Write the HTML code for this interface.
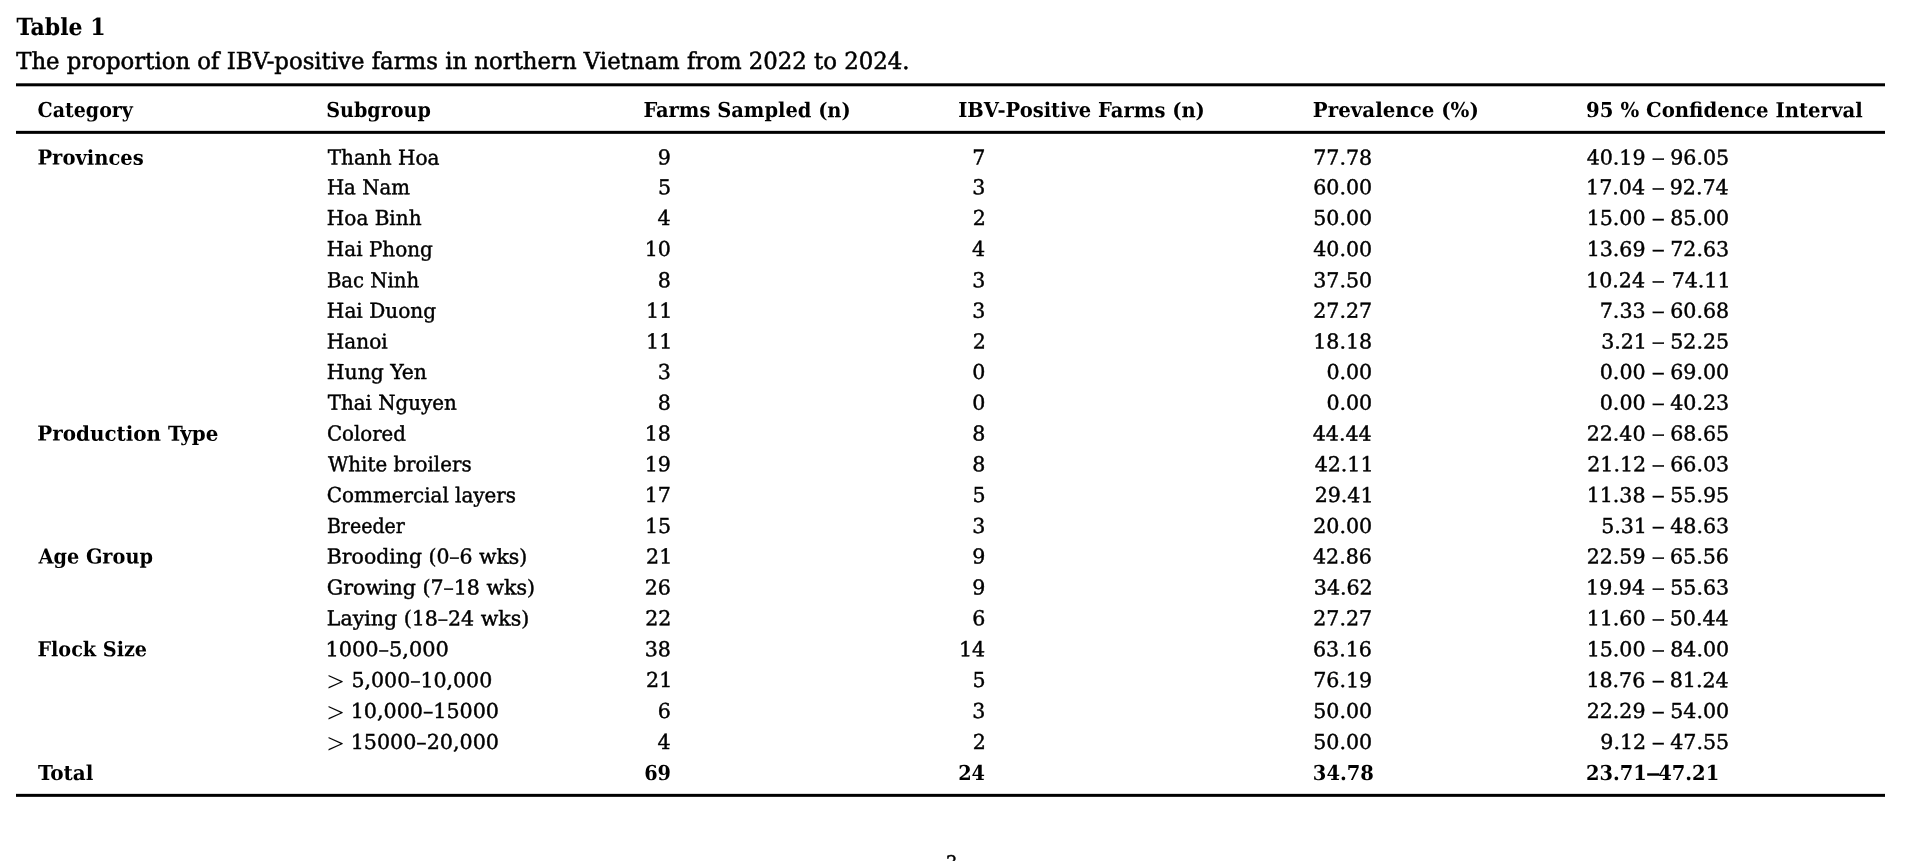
<!DOCTYPE html>
<html lang="en">
<head>
<meta charset="utf-8">
<title>Table 1 – The proportion of IBV-positive farms in northern Vietnam from 2022 to 2024</title>
<style>
html,body{margin:0;padding:0;background:#fff;}
body{width:1920px;height:861px;position:relative;overflow:hidden;color:#000;font-family:"DejaVu Serif Condensed", "DejaVu Serif", "Liberation Serif", serif;}
#page{position:absolute;left:0;top:0;width:1920px;height:861px;overflow:hidden;will-change:transform;}
svg.rules{position:absolute;left:0;top:0;}
.t{position:absolute;left:0;top:0;white-space:pre;line-height:1;font-size:20.5px;transform-origin:0 0;text-rendering:geometricPrecision;-webkit-text-stroke:0.4px #000;}
.b{font-weight:bold;-webkit-text-stroke:0px #000;}
.c{font-size:23.5px;-webkit-text-stroke:0.5px #000;}
.b.c{-webkit-text-stroke:0.1px #000;}
.g{font-family:"Liberation Serif", "DejaVu Serif", serif;font-size:27px;-webkit-text-stroke:0;}
</style>
</head>
<body>
<div id="page">
<svg class="rules" width="1920" height="861" aria-hidden="true"><rect x="16" y="83.3" width="1869" height="3" fill="#000"/><rect x="16" y="130.85" width="1869" height="3" fill="#000"/><rect x="16" y="793.85" width="1869" height="3" fill="#000"/></svg>
<div class="t b c" style="transform:translate(16.50px,15.90px) scaleX(1.0419)">Table 1</div>
<div class="t c" style="transform:translate(16.20px,50.30px) scaleX(1.0783)">The proportion of IBV-positive farms in northern Vietnam from 2022 to 2024.</div>
<div class="t b" style="transform:translate(37.53px,100.00px) scaleX(1.0309) rotate(0.05deg)">Category</div>
<div class="t b" style="transform:translate(326.20px,100.00px) scaleX(1.0374) rotate(0.05deg)">Subgroup</div>
<div class="t b" style="transform:translate(643.41px,100.00px) scaleX(1.0546) rotate(0.05deg)">Farms Sampled (n)</div>
<div class="t b" style="transform:translate(958.21px,100.00px) scaleX(1.0590) rotate(0.05deg)">IBV-Positive Farms (n)</div>
<div class="t b" style="transform:translate(1312.89px,100.00px) scaleX(1.0737) rotate(0.05deg)">Prevalence (%)</div>
<div class="t b" style="transform:translate(1586.13px,100.00px) scaleX(1.0680) rotate(0.05deg)">95 % Confidence Interval</div>
<div class="t b" style="transform:translate(37.41px,147.60px) scaleX(1.0596) rotate(0.05deg)">Provinces</div>
<div class="t" style="transform:translate(327.70px,147.60px) scaleX(1.0852) rotate(0.05deg)">Thanh Hoa</div>
<div class="t" style="transform:translate(657.81px,147.60px) scaleX(1.1150) rotate(0.05deg)">9</div>
<div class="t" style="transform:translate(972.31px,147.60px) scaleX(1.1150) rotate(0.05deg)">7</div>
<div class="t" style="transform:translate(1313.30px,147.60px) scaleX(1.1150) rotate(0.05deg)">77.78</div>
<div class="t" style="transform:translate(1586.70px,147.60px) scaleX(1.1150) rotate(0.05deg)">40.19</div>
<div class="t" style="transform:translate(1651.79px,147.60px) scaleX(1.4182) rotate(0.05deg)">–</div>
<div class="t" style="transform:translate(1670.30px,147.60px) scaleX(1.1150) rotate(0.05deg)">96.05</div>
<div class="t" style="transform:translate(326.90px,177.30px) scaleX(1.0706) rotate(0.05deg)">Ha Nam</div>
<div class="t" style="transform:translate(658.09px,177.30px) scaleX(1.1150) rotate(0.05deg)">5</div>
<div class="t" style="transform:translate(972.31px,177.30px) scaleX(1.1150) rotate(0.05deg)">3</div>
<div class="t" style="transform:translate(1313.30px,177.30px) scaleX(1.1150) rotate(0.05deg)">60.00</div>
<div class="t" style="transform:translate(1586.14px,177.30px) scaleX(1.1150) rotate(0.05deg)">17.04</div>
<div class="t" style="transform:translate(1651.79px,177.30px) scaleX(1.4182) rotate(0.05deg)">–</div>
<div class="t" style="transform:translate(1669.74px,177.30px) scaleX(1.1150) rotate(0.05deg)">92.74</div>
<div class="t" style="transform:translate(326.89px,207.90px) scaleX(1.0852) rotate(0.05deg)">Hoa Binh</div>
<div class="t" style="transform:translate(657.53px,207.90px) scaleX(1.1150) rotate(0.05deg)">4</div>
<div class="t" style="transform:translate(972.87px,207.90px) scaleX(1.1150) rotate(0.05deg)">2</div>
<div class="t" style="transform:translate(1313.30px,207.90px) scaleX(1.1150) rotate(0.05deg)">50.00</div>
<div class="t" style="transform:translate(1586.70px,207.90px) scaleX(1.1150) rotate(0.05deg)">15.00</div>
<div class="t" style="transform:translate(1651.79px,207.90px) scaleX(1.4182) rotate(0.05deg)">–</div>
<div class="t" style="transform:translate(1670.30px,207.90px) scaleX(1.1150) rotate(0.05deg)">85.00</div>
<div class="t" style="transform:translate(326.89px,239.10px) scaleX(1.0825) rotate(0.05deg)">Hai Phong</div>
<div class="t" style="transform:translate(644.71px,239.10px) scaleX(1.1150) rotate(0.05deg)">10</div>
<div class="t" style="transform:translate(972.03px,239.10px) scaleX(1.1150) rotate(0.05deg)">4</div>
<div class="t" style="transform:translate(1313.30px,239.10px) scaleX(1.1150) rotate(0.05deg)">40.00</div>
<div class="t" style="transform:translate(1586.70px,239.10px) scaleX(1.1150) rotate(0.05deg)">13.69</div>
<div class="t" style="transform:translate(1651.79px,239.10px) scaleX(1.4182) rotate(0.05deg)">–</div>
<div class="t" style="transform:translate(1670.30px,239.10px) scaleX(1.1150) rotate(0.05deg)">72.63</div>
<div class="t" style="transform:translate(326.90px,270.30px) scaleX(1.0667) rotate(0.05deg)">Bac Ninh</div>
<div class="t" style="transform:translate(657.81px,270.30px) scaleX(1.1150) rotate(0.05deg)">8</div>
<div class="t" style="transform:translate(972.31px,270.30px) scaleX(1.1150) rotate(0.05deg)">3</div>
<div class="t" style="transform:translate(1313.30px,270.30px) scaleX(1.1150) rotate(0.05deg)">37.50</div>
<div class="t" style="transform:translate(1586.14px,270.30px) scaleX(1.1150) rotate(0.05deg)">10.24</div>
<div class="t" style="transform:translate(1651.79px,270.30px) scaleX(1.4182) rotate(0.05deg)">–</div>
<div class="t" style="transform:translate(1671.69px,270.30px) scaleX(1.1150) rotate(0.05deg)">74.11</div>
<div class="t" style="transform:translate(326.88px,300.80px) scaleX(1.0892) rotate(0.05deg)">Hai Duong</div>
<div class="t" style="transform:translate(646.11px,300.80px) scaleX(1.1150) rotate(0.05deg)">11</div>
<div class="t" style="transform:translate(972.31px,300.80px) scaleX(1.1150) rotate(0.05deg)">3</div>
<div class="t" style="transform:translate(1313.30px,300.80px) scaleX(1.1150) rotate(0.05deg)">27.27</div>
<div class="t" style="transform:translate(1599.80px,300.80px) scaleX(1.1150) rotate(0.05deg)">7.33</div>
<div class="t" style="transform:translate(1651.79px,300.80px) scaleX(1.4182) rotate(0.05deg)">–</div>
<div class="t" style="transform:translate(1670.30px,300.80px) scaleX(1.1150) rotate(0.05deg)">60.68</div>
<div class="t" style="transform:translate(326.88px,331.40px) scaleX(1.0873) rotate(0.05deg)">Hanoi</div>
<div class="t" style="transform:translate(646.11px,331.40px) scaleX(1.1150) rotate(0.05deg)">11</div>
<div class="t" style="transform:translate(972.87px,331.40px) scaleX(1.1150) rotate(0.05deg)">2</div>
<div class="t" style="transform:translate(1313.30px,331.40px) scaleX(1.1150) rotate(0.05deg)">18.18</div>
<div class="t" style="transform:translate(1601.19px,331.40px) scaleX(1.1150) rotate(0.05deg)">3.21</div>
<div class="t" style="transform:translate(1651.79px,331.40px) scaleX(1.4182) rotate(0.05deg)">–</div>
<div class="t" style="transform:translate(1670.30px,331.40px) scaleX(1.1150) rotate(0.05deg)">52.25</div>
<div class="t" style="transform:translate(326.87px,362.00px) scaleX(1.1042) rotate(0.05deg)">Hung Yen</div>
<div class="t" style="transform:translate(657.81px,362.00px) scaleX(1.1150) rotate(0.05deg)">3</div>
<div class="t" style="transform:translate(972.31px,362.00px) scaleX(1.1150) rotate(0.05deg)">0</div>
<div class="t" style="transform:translate(1326.40px,362.00px) scaleX(1.1150) rotate(0.05deg)">0.00</div>
<div class="t" style="transform:translate(1599.80px,362.00px) scaleX(1.1150) rotate(0.05deg)">0.00</div>
<div class="t" style="transform:translate(1651.79px,362.00px) scaleX(1.4182) rotate(0.05deg)">–</div>
<div class="t" style="transform:translate(1670.30px,362.00px) scaleX(1.1150) rotate(0.05deg)">69.00</div>
<div class="t" style="transform:translate(327.70px,392.70px) scaleX(1.0764) rotate(0.05deg)">Thai Nguyen</div>
<div class="t" style="transform:translate(657.81px,392.70px) scaleX(1.1150) rotate(0.05deg)">8</div>
<div class="t" style="transform:translate(972.31px,392.70px) scaleX(1.1150) rotate(0.05deg)">0</div>
<div class="t" style="transform:translate(1326.40px,392.70px) scaleX(1.1150) rotate(0.05deg)">0.00</div>
<div class="t" style="transform:translate(1599.80px,392.70px) scaleX(1.1150) rotate(0.05deg)">0.00</div>
<div class="t" style="transform:translate(1651.79px,392.70px) scaleX(1.4182) rotate(0.05deg)">–</div>
<div class="t" style="transform:translate(1670.30px,392.70px) scaleX(1.1150) rotate(0.05deg)">40.23</div>
<div class="t b" style="transform:translate(37.39px,423.60px) scaleX(1.0781) rotate(0.05deg)">Production Type</div>
<div class="t" style="transform:translate(326.90px,423.60px) scaleX(1.0722) rotate(0.05deg)">Colored</div>
<div class="t" style="transform:translate(644.71px,423.60px) scaleX(1.1150) rotate(0.05deg)">18</div>
<div class="t" style="transform:translate(972.31px,423.60px) scaleX(1.1150) rotate(0.05deg)">8</div>
<div class="t" style="transform:translate(1312.74px,423.60px) scaleX(1.1150) rotate(0.05deg)">44.44</div>
<div class="t" style="transform:translate(1586.70px,423.60px) scaleX(1.1150) rotate(0.05deg)">22.40</div>
<div class="t" style="transform:translate(1651.79px,423.60px) scaleX(1.4182) rotate(0.05deg)">–</div>
<div class="t" style="transform:translate(1670.30px,423.60px) scaleX(1.1150) rotate(0.05deg)">68.65</div>
<div class="t" style="transform:translate(327.97px,454.20px) scaleX(1.0747) rotate(0.05deg)">White broilers</div>
<div class="t" style="transform:translate(644.71px,454.20px) scaleX(1.1150) rotate(0.05deg)">19</div>
<div class="t" style="transform:translate(972.31px,454.20px) scaleX(1.1150) rotate(0.05deg)">8</div>
<div class="t" style="transform:translate(1314.69px,454.20px) scaleX(1.1150) rotate(0.05deg)">42.11</div>
<div class="t" style="transform:translate(1587.26px,454.20px) scaleX(1.1150) rotate(0.05deg)">21.12</div>
<div class="t" style="transform:translate(1651.79px,454.20px) scaleX(1.4182) rotate(0.05deg)">–</div>
<div class="t" style="transform:translate(1670.30px,454.20px) scaleX(1.1150) rotate(0.05deg)">66.03</div>
<div class="t" style="transform:translate(326.89px,485.10px) scaleX(1.0787) rotate(0.05deg)">Commercial layers</div>
<div class="t" style="transform:translate(644.71px,485.10px) scaleX(1.1150) rotate(0.05deg)">17</div>
<div class="t" style="transform:translate(972.59px,485.10px) scaleX(1.1150) rotate(0.05deg)">5</div>
<div class="t" style="transform:translate(1314.69px,485.10px) scaleX(1.1150) rotate(0.05deg)">29.41</div>
<div class="t" style="transform:translate(1586.70px,485.10px) scaleX(1.1150) rotate(0.05deg)">11.38</div>
<div class="t" style="transform:translate(1651.79px,485.10px) scaleX(1.4182) rotate(0.05deg)">–</div>
<div class="t" style="transform:translate(1670.30px,485.10px) scaleX(1.1150) rotate(0.05deg)">55.95</div>
<div class="t" style="transform:translate(326.93px,516.00px) scaleX(1.0299) rotate(0.05deg)">Breeder</div>
<div class="t" style="transform:translate(644.99px,516.00px) scaleX(1.1150) rotate(0.05deg)">15</div>
<div class="t" style="transform:translate(972.31px,516.00px) scaleX(1.1150) rotate(0.05deg)">3</div>
<div class="t" style="transform:translate(1313.30px,516.00px) scaleX(1.1150) rotate(0.05deg)">20.00</div>
<div class="t" style="transform:translate(1601.19px,516.00px) scaleX(1.1150) rotate(0.05deg)">5.31</div>
<div class="t" style="transform:translate(1651.79px,516.00px) scaleX(1.4182) rotate(0.05deg)">–</div>
<div class="t" style="transform:translate(1670.30px,516.00px) scaleX(1.1150) rotate(0.05deg)">48.63</div>
<div class="t b" style="transform:translate(38.46px,546.50px) scaleX(1.0459) rotate(0.05deg)">Age Group</div>
<div class="t" style="transform:translate(326.87px,546.50px) scaleX(1.1063) rotate(0.05deg)">Brooding (0–6 wks)</div>
<div class="t" style="transform:translate(646.11px,546.50px) scaleX(1.1150) rotate(0.05deg)">21</div>
<div class="t" style="transform:translate(972.31px,546.50px) scaleX(1.1150) rotate(0.05deg)">9</div>
<div class="t" style="transform:translate(1313.02px,546.50px) scaleX(1.1150) rotate(0.05deg)">42.86</div>
<div class="t" style="transform:translate(1586.70px,546.50px) scaleX(1.1150) rotate(0.05deg)">22.59</div>
<div class="t" style="transform:translate(1651.79px,546.50px) scaleX(1.4182) rotate(0.05deg)">–</div>
<div class="t" style="transform:translate(1670.02px,546.50px) scaleX(1.1150) rotate(0.05deg)">65.56</div>
<div class="t" style="transform:translate(326.86px,577.40px) scaleX(1.1135) rotate(0.05deg)">Growing (7–18 wks)</div>
<div class="t" style="transform:translate(644.71px,577.40px) scaleX(1.1150) rotate(0.05deg)">26</div>
<div class="t" style="transform:translate(972.31px,577.40px) scaleX(1.1150) rotate(0.05deg)">9</div>
<div class="t" style="transform:translate(1313.86px,577.40px) scaleX(1.1150) rotate(0.05deg)">34.62</div>
<div class="t" style="transform:translate(1586.14px,577.40px) scaleX(1.1150) rotate(0.05deg)">19.94</div>
<div class="t" style="transform:translate(1651.79px,577.40px) scaleX(1.4182) rotate(0.05deg)">–</div>
<div class="t" style="transform:translate(1670.30px,577.40px) scaleX(1.1150) rotate(0.05deg)">55.63</div>
<div class="t" style="transform:translate(326.87px,608.30px) scaleX(1.1122) rotate(0.05deg)">Laying (18–24 wks)</div>
<div class="t" style="transform:translate(645.27px,608.30px) scaleX(1.1150) rotate(0.05deg)">22</div>
<div class="t" style="transform:translate(972.31px,608.30px) scaleX(1.1150) rotate(0.05deg)">6</div>
<div class="t" style="transform:translate(1313.30px,608.30px) scaleX(1.1150) rotate(0.05deg)">27.27</div>
<div class="t" style="transform:translate(1586.70px,608.30px) scaleX(1.1150) rotate(0.05deg)">11.60</div>
<div class="t" style="transform:translate(1651.79px,608.30px) scaleX(1.4182) rotate(0.05deg)">–</div>
<div class="t" style="transform:translate(1669.74px,608.30px) scaleX(1.1150) rotate(0.05deg)">50.44</div>
<div class="t b" style="transform:translate(37.42px,639.20px) scaleX(1.0410) rotate(0.05deg)">Flock Size</div>
<div class="t" style="transform:translate(325.43px,639.20px) scaleX(1.1330) rotate(0.05deg)">1000–5,000</div>
<div class="t" style="transform:translate(644.71px,639.20px) scaleX(1.1150) rotate(0.05deg)">38</div>
<div class="t" style="transform:translate(958.93px,639.20px) scaleX(1.1150) rotate(0.05deg)">14</div>
<div class="t" style="transform:translate(1313.02px,639.20px) scaleX(1.1150) rotate(0.05deg)">63.16</div>
<div class="t" style="transform:translate(1586.70px,639.20px) scaleX(1.1150) rotate(0.05deg)">15.00</div>
<div class="t" style="transform:translate(1651.79px,639.20px) scaleX(1.4182) rotate(0.05deg)">–</div>
<div class="t" style="transform:translate(1670.30px,639.20px) scaleX(1.1150) rotate(0.05deg)">84.00</div>
<div class="t g" style="transform:translate(327.09px,668.25px) scale(1.1294,1.0385) rotate(0.05deg)">&gt;</div>
<div class="t" style="transform:translate(351.51px,670.10px) scaleX(1.1123) rotate(0.05deg)">5,000–10,000</div>
<div class="t" style="transform:translate(646.11px,670.10px) scaleX(1.1150) rotate(0.05deg)">21</div>
<div class="t" style="transform:translate(972.59px,670.10px) scaleX(1.1150) rotate(0.05deg)">5</div>
<div class="t" style="transform:translate(1313.30px,670.10px) scaleX(1.1150) rotate(0.05deg)">76.19</div>
<div class="t" style="transform:translate(1586.42px,670.10px) scaleX(1.1150) rotate(0.05deg)">18.76</div>
<div class="t" style="transform:translate(1651.79px,670.10px) scaleX(1.4182) rotate(0.05deg)">–</div>
<div class="t" style="transform:translate(1669.74px,670.10px) scaleX(1.1150) rotate(0.05deg)">81.24</div>
<div class="t g" style="transform:translate(327.09px,699.15px) scale(1.1294,1.0385) rotate(0.05deg)">&gt;</div>
<div class="t" style="transform:translate(350.66px,701.00px) scaleX(1.1205) rotate(0.05deg)">10,000–15000</div>
<div class="t" style="transform:translate(657.81px,701.00px) scaleX(1.1150) rotate(0.05deg)">6</div>
<div class="t" style="transform:translate(972.31px,701.00px) scaleX(1.1150) rotate(0.05deg)">3</div>
<div class="t" style="transform:translate(1313.30px,701.00px) scaleX(1.1150) rotate(0.05deg)">50.00</div>
<div class="t" style="transform:translate(1586.70px,701.00px) scaleX(1.1150) rotate(0.05deg)">22.29</div>
<div class="t" style="transform:translate(1651.79px,701.00px) scaleX(1.4182) rotate(0.05deg)">–</div>
<div class="t" style="transform:translate(1670.30px,701.00px) scaleX(1.1150) rotate(0.05deg)">54.00</div>
<div class="t g" style="transform:translate(327.09px,730.05px) scale(1.1294,1.0385) rotate(0.05deg)">&gt;</div>
<div class="t" style="transform:translate(350.66px,731.90px) scaleX(1.1205) rotate(0.05deg)">15000–20,000</div>
<div class="t" style="transform:translate(657.53px,731.90px) scaleX(1.1150) rotate(0.05deg)">4</div>
<div class="t" style="transform:translate(972.87px,731.90px) scaleX(1.1150) rotate(0.05deg)">2</div>
<div class="t" style="transform:translate(1313.30px,731.90px) scaleX(1.1150) rotate(0.05deg)">50.00</div>
<div class="t" style="transform:translate(1600.36px,731.90px) scaleX(1.1150) rotate(0.05deg)">9.12</div>
<div class="t" style="transform:translate(1651.79px,731.90px) scaleX(1.4182) rotate(0.05deg)">–</div>
<div class="t" style="transform:translate(1670.30px,731.90px) scaleX(1.1150) rotate(0.05deg)">47.55</div>
<div class="t b" style="transform:translate(37.93px,763.00px) scaleX(1.0851) rotate(0.05deg)">Total</div>
<div class="t b" style="transform:translate(644.20px,763.00px) scaleX(1.0450) rotate(0.05deg)">69</div>
<div class="t b" style="transform:translate(958.17px,763.00px) scaleX(1.0450) rotate(0.05deg)">24</div>
<div class="t b" style="transform:translate(1312.88px,763.00px) scaleX(1.0577) rotate(0.05deg)">34.78</div>
<div class="t b" style="transform:translate(1586.08px,763.00px) scaleX(1.0521) rotate(0.05deg)">23.71</div>
<div class="t b" style="transform:translate(1645.62px,763.00px) scaleX(1.6828) rotate(0.05deg)">–</div>
<div class="t b" style="transform:translate(1658.21px,763.00px) scaleX(1.0570) rotate(0.05deg)">47.21</div>
<div class="t" style="transform:translate(945.54px,853.30px) scaleX(1.0105) rotate(0.05deg)">3</div>
</div>
</body>
</html>
